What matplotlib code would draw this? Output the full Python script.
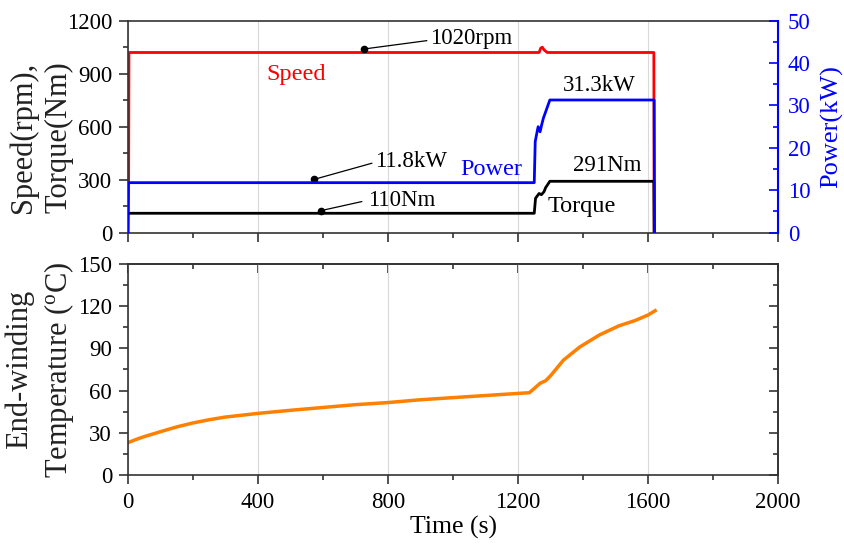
import matplotlib.pyplot as plt
from matplotlib.ticker import MultipleLocator

plt.rcParams['font.family'] = ['Liberation Serif', 'DejaVu Serif']
plt.rcParams['mathtext.fontset'] = 'custom'
plt.rcParams['mathtext.rm'] = 'Liberation Serif'

# data
t_speed = [0, 2, 3, 1265, 1270, 1275, 1280, 1290, 1618, 1619]
speed = [0, 300, 1020, 1020, 1045, 1050, 1035, 1020, 1020, 0]

t_torque = [0, 1250, 1254, 1258, 1265, 1272, 1280, 1285, 1298, 1618, 1619]
torque = [110, 110, 195, 205, 222, 215, 232, 255, 291, 291, 0]

t_power = [0, 1, 2, 1250, 1253, 1258, 1262, 1268, 1273, 1278, 1285, 1298, 1619, 1620]
power = [0, 11.8, 11.8, 11.8, 21.5, 23.5, 25, 23.8, 25.5, 27, 28.5, 31.3, 31.3, 0]

t_temp = [0, 25, 50, 100, 150, 200, 250, 300, 400, 500, 600, 700, 800, 900,
          1000, 1100, 1200, 1235, 1250, 1268, 1285, 1300, 1340, 1390, 1450,
          1510, 1560, 1600, 1622]
temp = [23, 25.3, 27.3, 30.8, 34.2, 37, 39.3, 41.2, 43.8, 46, 48, 50, 51.5,
        53.5, 55, 56.5, 58, 58.5, 61.5, 65.2, 67, 70.5, 81.7, 91, 99.5,
        106, 109.8, 113.7, 116.8]

fig = plt.figure(figsize=(8.44, 5.47), dpi=100)
ax1 = fig.add_axes([128/844, 1-232.7/547, 650/844, 212/547])
ax3 = fig.add_axes([128/844, 1-475/547, 650/844, 211/547])
ax2 = ax1.twinx()

spine_col = '#333333'
blue = '#0000ff'
fs_tick = 16.5
fs_note = 16.5
fs_name = 17.5
fs_lab = 22


def ticks(axis_obj, direction, color, pad):
    axis_obj.tick_params(which='both', direction=direction, color=color,
                         width=1.2, pad=pad)
    axis_obj.tick_params(which='major', length=6.5)
    axis_obj.tick_params(which='minor', length=3.5)


# top panel
ax1.grid(axis='x', color='#d9d9d9', lw=0.8)
ax1.set_axisbelow(True)
ax1.plot(t_speed, speed, color='#ff0000', lw=2)
ax1.plot(t_torque, torque, color='black', lw=2)
ax2.plot(t_power, power, color=blue, lw=2)

ax1.set_xlim(0, 2000)
ax1.set_ylim(0, 1200)
ax2.set_ylim(0, 50)
ax1.xaxis.set_major_locator(MultipleLocator(400))
ax1.xaxis.set_minor_locator(MultipleLocator(200))
ax1.yaxis.set_major_locator(MultipleLocator(300))
ax1.yaxis.set_minor_locator(MultipleLocator(150))
ax2.yaxis.set_major_locator(MultipleLocator(10))
ax2.yaxis.set_minor_locator(MultipleLocator(5))
ticks(ax1, 'out', spine_col, 5)
ax1.tick_params(axis='x', labelbottom=False)
ax1.tick_params(axis='y', labelsize=fs_tick)
ticks(ax2, 'in', blue, 7)
ax2.tick_params(axis='y', labelsize=fs_tick, labelcolor=blue)
for s in ['top', 'bottom', 'left']:
    ax1.spines[s].set_color(spine_col)
    ax1.spines[s].set_linewidth(1.2)
ax2.spines['right'].set_color(blue)
ax2.spines['right'].set_linewidth(1.5)
for s in ['top', 'bottom', 'left']:
    ax2.spines[s].set_visible(False)

ax1.set_ylabel('Speed(rpm),\nTorque(Nm)', fontsize=fs_lab, linespacing=1.3,
               color='#222222')
ax1.yaxis.set_label_coords(-0.084, 0.45)
ax2.set_ylabel('Power(kW)', fontsize=19, color=blue)
ax2.yaxis.set_label_coords(1.065, 0.5)


# annotations
def note(ax, dot, end, txt_xy, txt):
    ax.plot([dot[0], end[0]], [dot[1], end[1]], color='black', lw=0.9)
    ax.plot(dot[0], dot[1], 'o', color='black', ms=4.5)
    ax.text(txt_xy[0], txt_xy[1], txt, fontsize=fs_note, va='center', ha='left')


note(ax1, (727, 1040), (919, 1087), (929, 1100), '1020rpm')
note(ax1, (573, 302), (750, 393), (760, 402), '11.8kW')
note(ax1, (594, 125), (719, 176), (739, 185), '110Nm')
ax1.text(427, 893, 'Speed', color='#ff0000', fontsize=fs_name, va='center')
ax1.text(1022, 359, 'Power', color=blue, fontsize=fs_name, va='center')
ax1.text(1339, 836, '31.3kW', fontsize=fs_note, va='center')
ax1.text(1368, 383, '291Nm', fontsize=fs_note, va='center')
ax1.text(1292, 151, 'Torque', fontsize=fs_name, va='center')

# bottom panel
ax3.grid(axis='x', color='#d9d9d9', lw=0.8)
ax3.set_axisbelow(True)
ax3.plot(t_temp, temp, color='#ff8000', lw=2.5)
ax3.set_xlim(0, 2000)
ax3.set_ylim(0, 150)
ax3.xaxis.set_major_locator(MultipleLocator(400))
ax3.xaxis.set_minor_locator(MultipleLocator(200))
ax3.yaxis.set_major_locator(MultipleLocator(30))
ax3.yaxis.set_minor_locator(MultipleLocator(15))
ticks(ax3, 'out', spine_col, 5)
ax3.tick_params(labelsize=fs_tick)
ax3.tick_params(axis='x', pad=6)

sec_top = ax3.secondary_xaxis('top')
sec_top.xaxis.set_major_locator(MultipleLocator(400))
sec_top.xaxis.set_minor_locator(MultipleLocator(200))
ticks(sec_top, 'in', spine_col, 5)
sec_top.tick_params(labeltop=False)
sec_top.spines['top'].set_color(spine_col)
sec_top.spines['top'].set_linewidth(1.2)
sec_right = ax3.secondary_yaxis('right')
sec_right.yaxis.set_major_locator(MultipleLocator(30))
sec_right.yaxis.set_minor_locator(MultipleLocator(15))
ticks(sec_right, 'in', spine_col, 5)
sec_right.tick_params(labelright=False)
sec_right.spines['right'].set_color(spine_col)
sec_right.spines['right'].set_linewidth(1.2)
for s in ax3.spines.values():
    s.set_color(spine_col)
    s.set_linewidth(1.2)

ax3.set_ylabel('End-winding\nTemperature ($\\mathregular{^{o}}$C)',
               fontsize=fs_lab, linespacing=1.3, color='#222222')
ax3.yaxis.set_label_coords(-0.08, 0.5)
ax3.set_xlabel('Time (s)', fontsize=18.5, labelpad=2)

fig.savefig('out.png', dpi=100)
